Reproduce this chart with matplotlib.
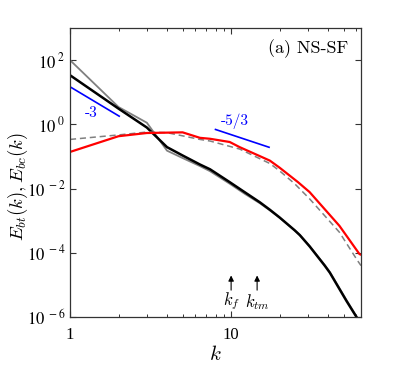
import numpy as np
import matplotlib
matplotlib.use('Agg')
import matplotlib.pyplot as plt

# spectra (k, log10 E)
k_bt = [1, 2, 3, 4, 5, 6.4, 7.4, 9.8, 12.2, 15.1, 17.4, 20, 24.8, 26.7, 30.7, 38.1, 41, 52, 60, 64]
e_bt = [1.53, 0.49, -0.10, -0.71, -0.97, -1.25, -1.40, -1.80, -2.12, -2.43, -2.66, -2.90, -3.30, -3.45, -3.80, -4.40, -4.62, -5.50, -6.0, -6.3]

k_bt2 = [1, 2, 3, 4, 5, 6.4, 7.4, 9.8, 12.2, 15.1, 17.4, 20, 24.8, 26.7, 30.7, 38.1, 41, 52, 60, 64]
e_bt2 = [2.0, 0.54, 0.05, -0.82, -1.05, -1.30, -1.46, -1.85, -2.17, -2.46, -2.68, -2.91, -3.30, -3.45, -3.79, -4.38, -4.60, -5.47, -5.98, -6.3]

k_bc = [1, 2, 3, 5, 6.4, 7.4, 9.8, 11.3, 17.4, 20, 26, 30.7, 47, 62.6, 64]
e_bc = [-0.86, -0.37, -0.27, -0.25, -0.42, -0.45, -0.55, -0.71, -1.13, -1.35, -1.80, -2.11, -3.16, -4.04, -4.06]

k_bc2 = [1, 2, 3, 4, 4.8, 6.4, 7.4, 11.3, 17.4, 20, 24.8, 30.7, 47, 61, 64]
e_bc2 = [-0.47, -0.33, -0.24, -0.26, -0.34, -0.47, -0.52, -0.77, -1.22, -1.45, -1.85, -2.32, -3.36, -4.25, -4.4]

ytick_vals = [-6, -4, -2, 0, 2]
k_f = 10
k_tm = 14.5

fig = plt.figure(figsize=(4.15, 3.69), dpi=100)
ax = fig.add_axes([70/415, 1-317/369, 291/415, 289/369])

ax.plot(k_bt2, 10**np.array(e_bt2), color='gray', lw=1.3)
ax.plot(k_bt, 10**np.array(e_bt), color='black', lw=1.8)
ax.plot(k_bc2, 10**np.array(e_bc2), color='gray', lw=1.1, ls=(0, (4, 2.5)))
ax.plot(k_bc, 10**np.array(e_bc), color='red', lw=1.6)

# reference slopes
ks = np.array([1, 2.02])
ax.plot(ks, 10**1.17 * ks**-3.0, color='blue', lw=1.2)
ks = np.array([8.0, 17.2])
ax.plot(ks, 10**-0.16 * (ks/8.0)**(-5/3), color='blue', lw=1.2)
ax.text(1.36, 10**0.36, '-3', color='blue', fontsize=11, family='cmr10', ha='center', va='center')
ax.text(10.6, 10**0.1, '-5/3', color='blue', fontsize=11, family='cmr10', ha='center', va='center')

ax.text(0.955, 0.93, '(a) NS-SF', transform=ax.transAxes, fontsize=13, family='cmr10', ha='right', va='center')

for kk, lab in [(k_f, r'$k_f$'), (k_tm, r'$k_{tm}$')]:
    ax.annotate('', xy=(kk, 10**-4.62), xytext=(kk, 10**-5.25),
                arrowprops=dict(arrowstyle='-|>', color='black', lw=0.8, mutation_scale=8))
    ax.text(kk, 10**-5.52, lab, fontsize=12, ha='center', va='center', math_fontfamily='cm')

ax.set_xscale('log')
ax.set_yscale('log')
ax.set_xlim(1, 64)
ax.set_ylim(1e-6, 1e3)
ax.set_yticks([10.0**v for v in ytick_vals])
ax.set_yticklabels([r'$10^{\ %d}$' % v for v in ytick_vals])
ax.yaxis.set_minor_locator(matplotlib.ticker.NullLocator())
ax.set_xticks([1, 10])
ax.set_xticklabels(['1', '10'])
ax.tick_params(which='both', direction='in', top=True, right=True, labelsize=12, color='#333333')
ax.tick_params(which='major', length=4, width=0.8)
ax.tick_params(which='minor', length=2.5, width=0.7)
ax.tick_params(axis='x', pad=7)
for lab in ax.get_xticklabels() + ax.get_yticklabels():
    lab.set_family('Liberation Serif')
    lab.set_math_fontfamily('stix')
for s in ax.spines.values():
    s.set_linewidth(0.9)
    s.set_color('#333333')

ax.set_xlabel(r'$k$', fontsize=15, math_fontfamily='cm', labelpad=1)
ax.set_ylabel(r'$E_{bt}(k), E_{bc}(k)$', fontsize=13.5, math_fontfamily='cm', va='center')
ax.yaxis.set_label_coords(-0.18, 0.453)

fig.savefig('out.png', dpi=100)
